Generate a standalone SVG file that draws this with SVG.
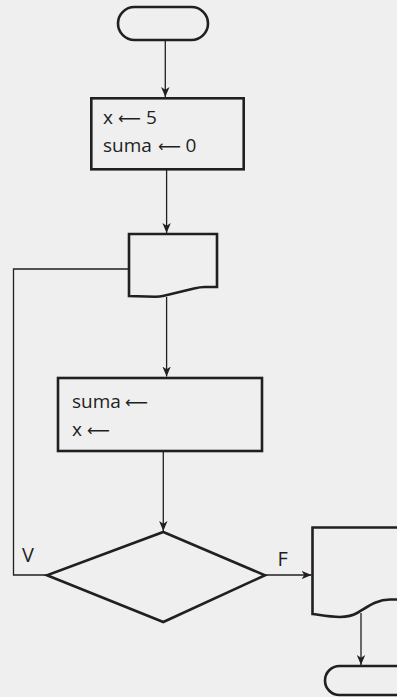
<svg xmlns="http://www.w3.org/2000/svg" width="397" height="697" viewBox="0 0 397 697">
<defs>
<style>
.node{fill:none;stroke:#231f20;stroke-width:2.6;stroke-linejoin:miter}
.conn{fill:none;stroke:#231f20;stroke-width:1.3}
.t{font-family:"Open Sans","Liberation Sans",sans-serif;font-size:19px;fill:#231f20}
.ar{font-family:"DejaVu Sans",sans-serif;font-size:16px}
.lbl{font-family:"Open Sans","Liberation Sans",sans-serif;font-size:20px;fill:#231f20}
</style>
<marker id="ah" viewBox="0 0 10 10" refX="10" refY="5" markerWidth="10" markerHeight="10" markerUnits="userSpaceOnUse" orient="auto">
<path d="M0,0.8 L10,5 L0,9.2 L2.8,5 Z" fill="#231f20"/>
</marker>
</defs>
<rect width="397" height="697" fill="#efefef"/>
<g id="connectors">
<line class="conn" x1="165.3" y1="40" x2="165.3" y2="97" marker-end="url(#ah)"/>
<line class="conn" x1="166.6" y1="170" x2="166.6" y2="233" marker-end="url(#ah)"/>
<line class="conn" x1="166.6" y1="297" x2="166.6" y2="376.5" marker-end="url(#ah)"/>
<line class="conn" x1="163.3" y1="451" x2="163.3" y2="531" marker-end="url(#ah)"/>
<line class="conn" x1="265" y1="575" x2="311.5" y2="575" marker-end="url(#ah)"/>
<line class="conn" x1="361" y1="613" x2="361" y2="665" marker-end="url(#ah)"/>
<polyline class="conn" points="129,269 13.5,269 13.5,575 47,575"/>
</g>
<g id="start">
<rect class="node" x="118" y="7" width="90" height="33" rx="16.5"/>
</g>
<g id="init">
<rect class="node" x="91.3" y="98.3" width="152.4" height="71"/>
<text class="t" x="103" y="124.3">x <tspan class="ar" x="118">⟵</tspan> <tspan x="146">5</tspan></text>
<text class="t" x="103" y="152">suma <tspan class="ar" x="158">⟵</tspan> <tspan x="185.5">0</tspan></text>
</g>
<g id="input">
<path class="node" d="M129,234 H217 V287 H205 Q200,287 194,288.5 L164,295.8 Q160,296.8 155,296.8 L129,296 Z"/>
</g>
<g id="process">
<rect class="node" x="58" y="378" width="204" height="73"/>
<text class="t" x="72" y="408">suma <tspan class="ar" x="125">⟵</tspan></text>
<text class="t" x="72" y="436">x <tspan class="ar" x="87">⟵</tspan></text>
</g>
<g id="decision">
<polygon class="node" points="163.3,532 265,575.3 163.3,622 47,575.3"/>
<text class="lbl" x="22" y="562">V</text>
<text class="lbl" x="277.5" y="566">F</text>
</g>
<g id="output">
<path class="node" d="M312.5,527.5 H410 V599.5 H390 C376,599.5 366,608 358,612.5 C352,616 347,617 340,617 C330,617 320,615 312.5,614 Z"/>
</g>
<g id="end">
<rect class="node" x="325" y="666" width="100" height="29" rx="14.5"/>
</g>
</svg>
